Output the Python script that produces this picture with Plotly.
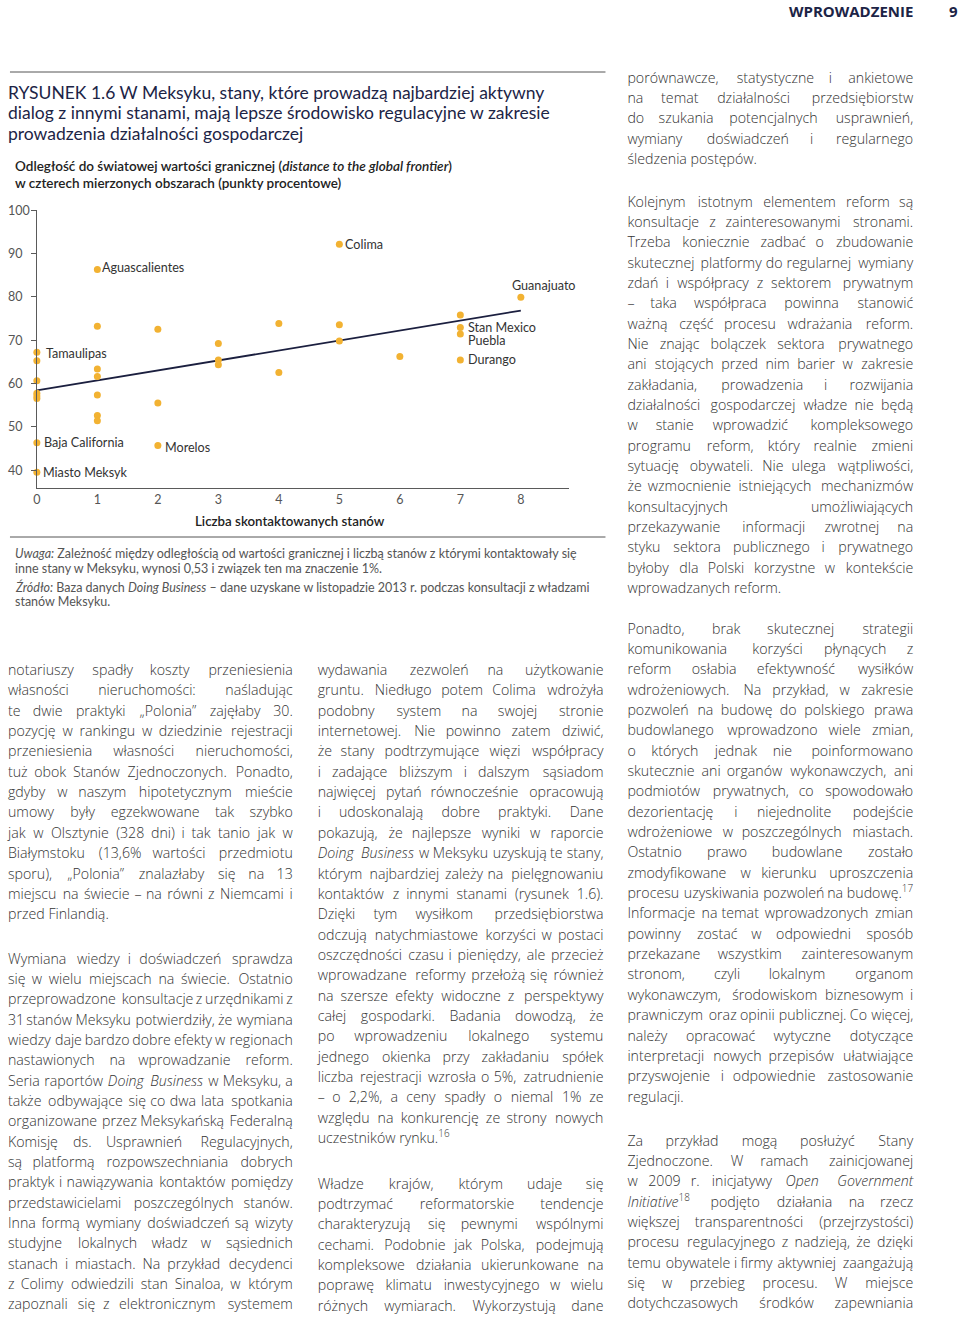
import re
import unicodedata
import plotly.graph_objects as go

W, H = 960, 1318

# ---------------- chart data ----------------
contacted = [0, 0, 0, 0, 0, 0, 0, 0,
             1, 1, 1, 1, 1, 1, 1,
             2, 2, 2,
             3, 3, 3,
             4, 4,
             5, 5, 5,
             6,
             7, 7, 7, 7,
             8]
distance = [67.2, 65.2, 60.6, 57.7, 57.1, 56.5, 46.3, 39.5,
            86.3, 73.2, 63.3, 61.6, 57.3, 52.6, 51.4,
            72.5, 55.5, 45.7,
            69.2, 65.4, 64.3,
            73.8, 62.5,
            92.1, 73.5, 69.8,
            66.2,
            75.8, 72.9, 71.4, 65.4,
            79.9]
label_names = ["Aguascalientes", "Tamaulipas", "Baja California", "Miasto Meksyk",
               "Morelos", "Colima", "Guanajuato", "Stan Mexico", "Puebla", "Durango"]
label_idx = [8, 0, 6, 7, 17, 23, 31, 28, 29, 30]
trend_x = [0, 8]
trend_y = [58.4, 76.8]
y_ticks = [40, 50, 60, 70, 80, 90, 100]
x_ticks = [0, 1, 2, 3, 4, 5, 6, 7, 8]

# ---------------- page text ----------------
title_lines = [
    "RYSUNEK 1.6 W Meksyku, stany, które prowadzą najbardziej aktywny",
    "dialog z innymi stanami, mają lepsze środowisko regulacyjne w zakresie",
    "prowadzenia działalności gospodarczej",
]
subtitle_lines = [
    "Odległość do światowej wartości granicznej (<i>distance to the global frontier</i>)",
    "w czterech mierzonych obszarach (punkty procentowe)",
]
x_title = "Liczba skontaktowanych stanów"
note_lines = [
    "<i>Uwaga:</i> Zależność między odległością od wartości granicznej i liczbą stanów z którymi kontaktowały się",
    "inne stany w Meksyku, wynosi 0,53 i związek ten ma znaczenie 1%.",
    "<i>Źródło:</i> Baza danych <i>Doing Business</i> – dane uzyskane w listopadzie 2013 r. podczas konsultacji z władzami",
    "stanów Meksyku.",
]

left_p1 = [
    "notariuszy spadły koszty przeniesienia",
    "własności nieruchomości: naśladując",
    "te dwie praktyki „Polonia” zajęłaby 30.",
    "pozycję w rankingu w dziedzinie rejestracji",
    "przeniesienia własności nieruchomości,",
    "tuż obok Stanów Zjednoczonych. Ponadto,",
    "gdyby w naszym hipotetycznym mieście",
    "umowy były egzekwowane tak szybko",
    "jak w Olsztynie (328 dni) i tak tanio jak w",
    "Białymstoku (13,6% wartości przedmiotu",
    "sporu), „Polonia” znalazłaby się na 13",
    "miejscu na świecie – na równi z Niemcami i",
    "przed Finlandią.",
]
left_p2 = [
    "Wymiana wiedzy i doświadczeń sprawdza",
    "się w wielu miejscach na świecie. Ostatnio",
    "przeprowadzone konsultacje z urzędnikami z",
    "31 stanów Meksyku potwierdziły, że wymiana",
    "wiedzy daje bardzo dobre efekty w regionach",
    "nastawionych na wprowadzanie reform.",
    "Seria raportów <i>Doing</i> <i>Business</i> w Meksyku, a",
    "także odbywające się co dwa lata spotkania",
    "organizowane przez Meksykańską Federalną",
    "Komisję ds. Usprawnień Regulacyjnych,",
    "są platformą rozpowszechniania dobrych",
    "praktyk i nawiązywania kontaktów pomiędzy",
    "przedstawicielami poszczególnych stanów.",
    "Inna formą wymiany doświadczeń są wizyty",
    "studyjne lokalnych władz w sąsiednich",
    "stanach i miastach. Na przykład decydenci",
    "z Colimy odwiedzili stan Sinaloa, w którym",
    "zapoznali się z elektronicznym systemem",
]
mid_p1 = [
    "wydawania zezwoleń na użytkowanie",
    "gruntu. Niedługo potem Colima wdrożyła",
    "podobny system na swojej stronie",
    "internetowej. Nie powinno zatem dziwić,",
    "że stany podtrzymujące więzi współpracy",
    "i zadające bliższym i dalszym sąsiadom",
    "najwięcej pytań równocześnie opracowują",
    "i udoskonalają dobre praktyki. Dane",
    "pokazują, że najlepsze wyniki w raporcie",
    "<i>Doing</i> <i>Business</i> w Meksyku uzyskują te stany,",
    "którym najbardziej zależy na pielęgnowaniu",
    "kontaktów z innymi stanami (rysunek 1.6).",
    "Dzięki tym wysiłkom przedsiębiorstwa",
    "odczują natychmiastowe korzyści w postaci",
    "oszczędności czasu i pieniędzy, ale przecież",
    "wprowadzane reformy przełożą się również",
    "na szersze efekty widoczne z perspektywy",
    "całej gospodarki. Badania dowodzą, że",
    "po wprowadzeniu lokalnego systemu",
    "jednego okienka przy zakładaniu spółek",
    "liczba rejestracji wzrosła o 5%, zatrudnienie",
    "– o 2,2%, a ceny spadły o niemal 1% ze",
    "względu na konkurencję ze strony nowych",
    "uczestników rynku.<sup>16</sup>",
]
mid_p2 = [
    "Władze krajów, którym udaje się",
    "podtrzymać reformatorskie tendencje",
    "charakteryzują się pewnymi wspólnymi",
    "cechami. Podobnie jak Polska, podejmują",
    "kompleksowe działania ukierunkowane na",
    "poprawę klimatu inwestycyjnego w wielu",
    "różnych wymiarach. Wykorzystują dane",
]
right_p1 = [
    "porównawcze, statystyczne i ankietowe",
    "na temat działalności przedsiębiorstw",
    "do szukania potencjalnych usprawnień,",
    "wymiany doświadczeń i regularnego",
    "śledzenia postępów.",
]
right_p2 = [
    "Kolejnym istotnym elementem reform są",
    "konsultacje z zainteresowanymi stronami.",
    "Trzeba koniecznie zadbać o zbudowanie",
    "skutecznej platformy do regularnej wymiany",
    "zdań i współpracy z sektorem prywatnym",
    "– taka współpraca powinna stanowić",
    "ważną część procesu wdrażania reform.",
    "Nie znając bolączek sektora prywatnego",
    "ani stojących przed nim barier w zakresie",
    "zakładania, prowadzenia i rozwijania",
    "działalności gospodarczej władze nie będą",
    "w stanie wprowadzić kompleksowego",
    "programu reform, który realnie zmieni",
    "sytuację obywateli. Nie ulega wątpliwości,",
    "że wzmocnienie istniejących mechanizmów",
    "konsultacyjnych umożliwiających",
    "przekazywanie informacji zwrotnej na",
    "styku sektora publicznego i prywatnego",
    "byłoby dla Polski korzystne w kontekście",
    "wprowadzanych reform.",
]
right_p3 = [
    "Ponadto, brak skutecznej strategii",
    "komunikowania korzyści płynących z",
    "reform osłabia efektywność wysiłków",
    "wdrożeniowych. Na przykład, w zakresie",
    "pozwoleń na budowę do polskiego prawa",
    "budowlanego wprowadzono wiele zmian,",
    "o których jednak nie poinformowano",
    "skutecznie ani organów wykonawczych, ani",
    "podmiotów prywatnych, co spowodowało",
    "dezorientację i niejednolite podejście",
    "wdrożeniowe w poszczególnych miastach.",
    "Ostatnio prawo budowlane zostało",
    "zmodyfikowane w kierunku uproszczenia",
    "procesu uzyskiwania pozwoleń na budowę.<sup>17</sup>",
    "Informacje na temat wprowadzonych zmian",
    "powinny zostać w odpowiedni sposób",
    "przekazane wszystkim zainteresowanym",
    "stronom, czyli lokalnym organom",
    "wykonawczym, środowiskom biznesowym i",
    "prawniczym oraz opinii publicznej. Co więcej,",
    "należy opracować wytyczne dotyczące",
    "interpretacji nowych przepisów ułatwiające",
    "przyswojenie i odpowiednie zastosowanie",
    "regulacji.",
]
right_p4 = [
    "Za przykład mogą posłużyć Stany",
    "Zjednoczone. W ramach zainicjowanej",
    "w 2009 r. inicjatywy <i>Open</i> <i>Government</i>",
    "<i>Initiative</i><sup>18</sup> podjęto działania na rzecz",
    "większej transparentności (przejrzystości)",
    "procesu regulacyjnego z nadzieją, że dzięki",
    "temu obywatele i firmy aktywniej zaangażują",
    "się w przebieg procesu. W miejsce",
    "dotychczasowych środków zapewniania",
]

# ---------------- styles ----------------
NAVY = "#1c2446"
DOT = "#f2b232"
BODY = "#333333"
FIG_FONT = "Lato"
BODY_FONT = "Open Sans"
BODY_SIZE = 14.2
PITCH = 20.35

# paragraph placement: lines, left, right, first line y, ends here
paragraphs = [
    (left_p1, 4, 290, 671.5, True),
    (left_p2, 4, 290, 960, False),
    (mid_p1, 315, 602, 671.5, True),
    (mid_p2, 315, 602, 1185, False),
    (right_p1, 626, 913, 79, True),
    (right_p2, 626, 913, 203, True),
    (right_p3, 626, 913, 630, True),
    (right_p4, 626, 913, 1142, False),
]

# Open Sans advance widths (units per em 2048)
ADV = {' ': 532, 'a': 1139, 'b': 1255, 'c': 975, 'd': 1255, 'e': 1149, 'f': 694,
       'g': 1122, 'h': 1257, 'i': 518, 'j': 518, 'k': 1075, 'l': 518, 'm': 1905,
       'n': 1257, 'o': 1237, 'p': 1255, 'q': 1255, 'r': 836, 's': 977, 't': 723,
       'u': 1257, 'v': 1026, 'w': 1593, 'x': 1073, 'y': 1028, 'z': 954,
       'A': 1296, 'B': 1327, 'C': 1292, 'D': 1493, 'E': 1139, 'F': 1057, 'G': 1491,
       'H': 1511, 'I': 571, 'J': 547, 'K': 1257, 'L': 1063, 'M': 1849, 'N': 1544,
       'O': 1595, 'P': 1233, 'Q': 1595, 'R': 1266, 'S': 1124, 'T': 1133, 'U': 1491,
       'V': 1219, 'W': 1866, 'X': 1182, 'Y': 1139, 'Z': 1147,
       ',': 502, '.': 545, ':': 545, ';': 545, '(': 594, ')': 594, '%': 1686,
       '–': 1024, '-': 659, '„': 717, '”': 717, '"': 821}
for d in "0123456789":
    ADV[d] = 1171


def char_w(ch):
    if ch in ADV:
        return ADV[ch]
    if ch == 'ł':
        return ADV['l']
    base = unicodedata.normalize('NFD', ch)[0]
    return ADV.get(base, 1100)


def word_width(word, size):
    sups = re.findall(r'<sup>(.*?)</sup>', word)
    base = re.sub(r'<sup>.*?</sup>', '', word)
    base = re.sub(r'<[^>]+>', '', base)
    w = sum(char_w(c) for c in base)
    w += sum(0.7 * char_w(c) for s in sups for c in s)
    return w * size / 2048


# collect body words (justified like the printed page)
left_x, left_y, left_t = [], [], []
mid_x, mid_y, mid_t = [], [], []
right_x, right_y, right_t = [], [], []
for lines, x0, x1, y0, ends in paragraphs:
    for i, line in enumerate(lines):
        y = y0 + i * PITCH
        words = line.split(' ')
        last = (i == len(lines) - 1) and ends
        if last or len(words) == 1:
            left_x.append(x0); left_y.append(y); left_t.append(line)
            continue
        widths = [word_width(w, BODY_SIZE) for w in words]
        gap = (x1 - x0 - sum(widths)) / (len(words) - 1)
        pos = x0
        for j, (w, ww) in enumerate(zip(words, widths)):
            if j == 0:
                left_x.append(x0); left_y.append(y); left_t.append(w)
            elif j == len(words) - 1:
                right_x.append(x1); right_y.append(y); right_t.append(w)
            else:
                mid_x.append(pos + ww / 2); mid_y.append(y); mid_t.append(w)
            pos += ww + gap

body_font = dict(family=BODY_FONT, size=BODY_SIZE, color=BODY, weight=300)

fig = go.Figure()

# ---- chart ----
fig.add_trace(go.Scatter(
    x=trend_x, y=trend_y, mode="lines",
    line=dict(color="#1b1f3f", width=1.8),
    hoverinfo="skip", cliponaxis=False,
))
fig.add_trace(go.Scatter(
    x=contacted, y=distance, mode="markers",
    marker=dict(color=DOT, size=7),
    cliponaxis=False,
))

# ---- body text (overlay axes spanning the page) ----
for xs, ys, ts, tp in [(left_x, left_y, left_t, "middle right"),
                       (mid_x, mid_y, mid_t, "middle center"),
                       (right_x, right_y, right_t, "middle left")]:
    fig.add_trace(go.Scatter(
        x=xs, y=ys, text=ts, mode="text", textposition=tp,
        textfont=body_font, xaxis="x2", yaxis="y2",
        hoverinfo="skip", cliponaxis=False,
    ))


def px(x):
    return x / W


def py(y):
    return 1 - y / H


ann = []
# header
ann.append(dict(x=px(915), y=py(11), text="<b>WPROWADZENIE</b>", xanchor="right", yanchor="middle",
                font=dict(family=BODY_FONT, size=15, color=NAVY)))
ann.append(dict(x=px(960), y=py(11), text="<b>9</b>", xanchor="right", yanchor="middle",
                font=dict(family=BODY_FONT, size=15, color=NAVY)))
# title
for i, t in enumerate(title_lines):
    ann.append(dict(x=px(2), y=py(92 + i * 20.5), text=t, xanchor="left", yanchor="middle",
                    font=dict(family=FIG_FONT, size=17.5, color=NAVY)))
for i, t in enumerate(subtitle_lines):
    ann.append(dict(x=px(9), y=py(166 + i * 17), text=t, xanchor="left", yanchor="middle",
                    font=dict(family=FIG_FONT, size=13.5, color="#222222", weight=600)))
ann.append(dict(x=px(287), y=py(521), text=x_title, xanchor="center", yanchor="middle",
                font=dict(family=FIG_FONT, size=13.3, color="#222222", weight=600)))
for i, t in enumerate(note_lines):
    yy = [553, 568, 587, 601][i]
    ann.append(dict(x=px(9), y=py(yy), text=t, xanchor="left", yanchor="middle",
                    font=dict(family=FIG_FONT, size=12.5, color="#555555")))

# y tick labels, left aligned as in the source
for v in y_ticks:
    ann.append(dict(x=px(2), xref="paper", y=v, yref="y", text=str(v), xanchor="left",
                    yanchor="middle", font=dict(family=FIG_FONT, size=12.5, color="#555555")))

# state labels
label_style = {
    "Aguascalientes": (3, 2, "left"),
    "Tamaulipas": (7, -1, "left"),
    "Baja California": (5, 0, "left"),
    "Miasto Meksyk": (4, 0, "left"),
    "Morelos": (5, -2, "left"),
    "Colima": (4, 0, "left"),
    "Guanajuato": (-11, 12, "left"),
    "Stan Mexico": (6, 0, "left"),
    "Puebla": (6, -7, "left"),
    "Durango": (6, 0, "left"),
}
for name, idx in zip(label_names, label_idx):
    dx, dy, anc = label_style[name]
    ann.append(dict(x=contacted[idx], y=distance[idx], xref="x", yref="y", text=name,
                    xanchor=anc, yanchor="middle", xshift=dx, yshift=dy,
                    font=dict(family=FIG_FONT, size=12.6, color="#333333")))

for a in ann:
    a.setdefault("xref", "paper")
    a.setdefault("yref", "paper")
    a["showarrow"] = False

shapes = [
    dict(type="line", xref="paper", yref="paper", x0=px(6), x1=px(604), y0=py(72), y1=py(72),
         line=dict(color="#555555", width=1)),
    dict(type="line", xref="paper", yref="paper", x0=px(6), x1=px(604), y0=py(537), y1=py(537),
         line=dict(color="#555555", width=1)),
]

fig.update_layout(
    width=W, height=H,
    margin=dict(l=0, r=0, t=0, b=0),
    paper_bgcolor="white", plot_bgcolor="rgba(0,0,0,0)",
    showlegend=False,
    annotations=ann, shapes=shapes,
    xaxis=dict(domain=[33 / W, 567 / W], range=[0, 8.79], showline=True, linecolor="#5a5a5a",
               linewidth=1.3, tickvals=x_ticks, ticks="", showgrid=False, zeroline=False,
               tickfont=dict(family=FIG_FONT, size=12.5, color="#555555")),
    yaxis=dict(domain=[1 - 488.3 / H, 1 - 210 / H], range=[35.8, 100], showline=True,
               linecolor="#5a5a5a", linewidth=1.3, tickvals=y_ticks, ticks="outside",
               ticklen=5, tickcolor="#5a5a5a", showticklabels=False, showgrid=False,
               zeroline=False),
    xaxis2=dict(domain=[0, 1], range=[0, W], visible=False, anchor="y2", fixedrange=True),
    yaxis2=dict(domain=[0, 1], range=[H, 0], visible=False, anchor="x2", fixedrange=True),
)

# the page is exactly the window size, so drop the default body margin
fig.write_html("out.html", config={"displayModeBar": False},
               post_script="document.body.style.margin='0px';")
